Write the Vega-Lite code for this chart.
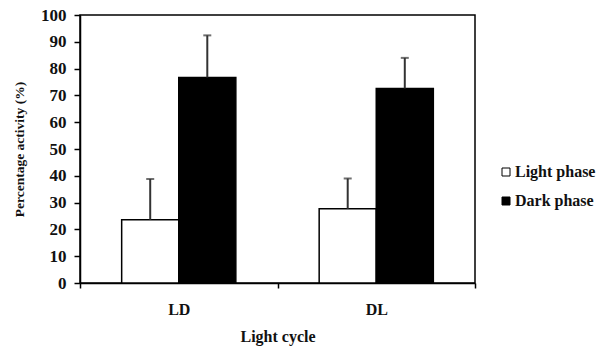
{
  "$schema": "https://vega.github.io/schema/vega-lite/v6.json",
  "width": 395,
  "height": 268,
  "autosize": {"type": "none"},
  "padding": {"left": 80, "top": 15, "right": 123, "bottom": 70},
  "background": "white",
  "config": {
    "view": {"stroke": "#000", "strokeWidth": 1.5},
    "font": "Liberation Serif",
    "axis": {"domainColor": "#000", "domainWidth": 1.5, "tickColor": "#000", "tickWidth": 1.5, "labelColor": "#111", "titleColor": "#111", "labelFont": "Liberation Serif", "titleFont": "Liberation Serif", "labelFontWeight": "bold", "titleFontWeight": "bold", "grid": false}
  },
  "data": {
    "values": [
      {"cycle": "LD", "phase": "Light phase", "value": 23.6, "upper": 38.8},
      {"cycle": "LD", "phase": "Dark phase", "value": 76.7, "upper": 92.4},
      {"cycle": "DL", "phase": "Light phase", "value": 27.7, "upper": 39.0},
      {"cycle": "DL", "phase": "Dark phase", "value": 72.6, "upper": 84.0}
    ]
  },
  "encoding": {
    "x": {
      "field": "cycle", "type": "nominal", "sort": ["LD", "DL"],
      "scale": {"paddingInner": 0, "paddingOuter": 0},
      "axis": {"title": "Light cycle", "labelAngle": 0, "tickBand": "extent", "tickSize": 5, "labelPadding": 13, "labelFontSize": 16, "titleFontSize": 16, "titlePadding": 11}
    },
    "xOffset": {"field": "phase", "type": "nominal", "sort": ["Light phase", "Dark phase"], "scale": {"paddingInner": 0, "paddingOuter": 0.73}},
    "y": {
      "field": "value", "type": "quantitative",
      "scale": {"domain": [0, 100], "nice": false},
      "axis": {"title": "Percentage activity (%)", "values": [0,10,20,30,40,50,60,70,80,90,100], "labelOverlap": false, "tickSize": 6, "labelPadding": 8, "labelFontSize": 17, "titleFontSize": 13.5, "titlePadding": 14}
    }
  },
  "layer": [
    {
      "mark": {"type": "bar", "stroke": "#000", "strokeWidth": 1.5},
      "encoding": {
        "fill": {
          "field": "phase", "type": "nominal",
          "scale": {"domain": ["Light phase", "Dark phase"], "range": ["#ffffff", "#000000"]},
          "legend": {"title": null, "orient": "none", "legendX": 418, "legendY": 149, "symbolType": "square", "symbolSize": 64, "symbolStrokeColor": "#000", "symbolStrokeWidth": 1, "labelFont": "Liberation Serif", "labelFontWeight": "bold", "labelFontSize": 16, "labelColor": "#111", "rowPadding": 13, "labelOffset": 1}
        }
      }
    },
    {
      "mark": {"type": "rule", "color": "#333", "strokeWidth": 2},
      "encoding": {
        "y2": {"field": "upper"}
      }
    },
    {
      "transform": [{"fold": ["upper"], "as": ["k", "value"]}],
      "mark": {"type": "tick", "color": "#333", "thickness": 2, "size": 8, "orient": "horizontal"},
      "encoding": {}
    }
  ]
}
